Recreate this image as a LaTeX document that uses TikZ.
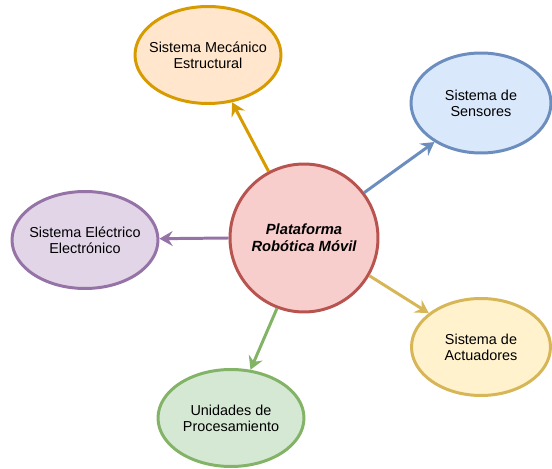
\documentclass[tikz,border=0pt]{standalone}
\usepackage{fontspec}
\setmainfont{Liberation Sans}
\usetikzlibrary{shapes.geometric,arrows.meta}
\definecolor{oS}{HTML}{D79B00}\definecolor{oF}{HTML}{FFE6CC}
\definecolor{bS}{HTML}{6C8EBF}\definecolor{bF}{HTML}{DAE8FC}
\definecolor{pS}{HTML}{9673A6}\definecolor{pF}{HTML}{E1D5E7}
\definecolor{yS}{HTML}{D6B656}\definecolor{yF}{HTML}{FFF2CC}
\definecolor{gS}{HTML}{82B366}\definecolor{gF}{HTML}{D5E8D4}
\definecolor{rS}{HTML}{B85450}\definecolor{rF}{HTML}{F8CECC}
\tikzset{
  sub/.style={ellipse, draw, line width=1.7pt, inner xsep=-14pt, inner ysep=0pt, minimum width=2.92cm, minimum height=1.94cm, align=center, font=\fontsize{8.2pt}{9.2pt}\selectfont},
  hub/.style={circle, draw=rS, fill=rF, line width=1.7pt, inner sep=0pt, minimum size=2.96cm, align=center, font=\fontsize{8.4pt}{9.6pt}\selectfont\bfseries\itshape},
  arr/.style={line width=1.7pt, -{Stealth[length=7.5pt, width=8.5pt, inset=2.6pt]}}
}
\begin{document}
\begin{tikzpicture}[x=0.02cm, y=-0.02cm]
\useasboundingbox (0,0) rectangle (552,469);
\node[hub] (c) at (304,238) {Plataforma\\Robótica Móvil};
\node[sub, draw=oS, fill=oF] (mech) at (208,55) {Sistema Mecánico\\Estructural};
\node[sub, draw=bS, fill=bF, minimum width=2.8cm, minimum height=2cm] (sens) at (481,103) {Sistema de\\Sensores};
\node[sub, draw=pS, fill=pF] (elec) at (85,240) {Sistema Eléctrico\\Electrónico};
\node[sub, draw=yS, fill=yF, minimum width=2.78cm] (act) at (481,347) {Sistema de\\Actuadores};
\node[sub, draw=gS, fill=gF] (proc) at (231,418) {Unidades de\\Procesamiento};
\draw[arr, oS] (c.118) -- (mech.-63);
\draw[arr, bS] (c.37) -- (sens.220);
\draw[arr, pS] (c.180) -- (elec.1);
\draw[arr, yS] (c.-30) -- (act.147);
\draw[arr, gS] (c.249) -- (proc.68);
\end{tikzpicture}
\end{document}
